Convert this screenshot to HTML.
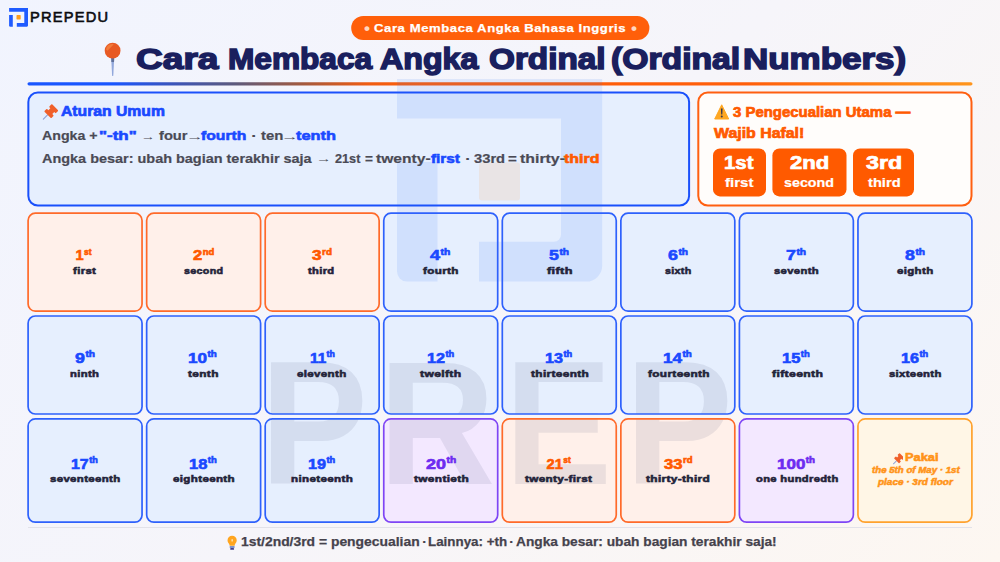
<!DOCTYPE html>
<html lang="id">
<head>
<meta charset="utf-8">
<title>Cara Membaca Angka Ordinal (Ordinal Numbers)</title>
<style>
*{box-sizing:border-box;margin:0;padding:0}
html,body{width:1000px;height:562px;overflow:hidden}
body{font-family:"Liberation Sans",sans-serif;font-weight:700;position:relative;
 background:linear-gradient(135deg,#f1f4fe 0%,#f6f5fa 50%,#fdf7f1 100%)}
.abs{position:absolute}
.t{position:absolute;white-space:pre;line-height:1;transform-origin:0 0;z-index:6}
.t sup{font-size:.57em;line-height:0;vertical-align:baseline;position:relative;top:-.68em;margin-left:.05em}
#logo{left:9px;top:8px;z-index:6}
#pin{left:103px;top:41px;z-index:6}
#grid{left:0;top:0}
#grid .fills rect{stroke:none}
#grid .strokes rect{fill:none;stroke-width:1.7px}
#grid .fills .b{fill:#e6effe}#grid .strokes .b{stroke:#2e61fc}
#grid .fills .o{fill:#fff0ea}#grid .strokes .o{stroke:#ff6a2a}
#grid .fills .p{fill:#f3e8ff}#grid .strokes .p{stroke:#7f45f5}
#grid .fills .y{fill:#fff6e6}#grid .strokes .y{stroke:#ffa22e}
#sep{left:28px;top:527px;width:944px;height:1.2px;background:#e2e2e9}
.ico{position:absolute;z-index:6}
</style>
</head>
<body>
<!-- header -->
<svg class="abs" id="logo" width="20" height="20" viewBox="0 0 20 20">
 <path d="M0.1 0h18.9v17.6a1.1 1.1 0 0 1-1.1 1.1H7.8v-3.6h7.5V3.8H0.1z" fill="#1f5bff"/>
 <path d="M0.1 7.1h3.7v11.6H1.4a1.3 1.3 0 0 1-1.3-1.3z" fill="#1f5bff"/>
 <rect x="7.5" y="7.1" width="4.2" height="4.3" rx=".6" fill="#ff9d1c"/>
</svg>
<svg class="abs" id="pin" width="20" height="38" viewBox="0 0 20 38">
 <path d="M8.2 17h3l-.9 17.4q-.6 1.2-1.2 0z" fill="#92a8dc"/>
 <path d="M8.2 17h3l-.2 4h-2.6z" fill="#5f7099"/>
 <circle cx="9.6" cy="9.7" r="7.9" fill="#e85a24"/>
 <path d="M3 8.5a6.7 6.7 0 0 1 6.2-5.6l1.6.3-6.3 6.6z" fill="#f3813f" opacity=".85"/>
</svg>
<!-- panels -->
<!-- pushpin icons -->
<svg class="ico" style="left:40.4px;top:103.5px" width="17.4" height="17.4" viewBox="-10 -10 20 20">
 <g transform="translate(0.6,0.6) rotate(45)">
  <rect x="-.7" y="2" width="1.4" height="8.200" rx=".7" fill="#8fa3d8"/>
  <path d="M-4.400-9.600h8.800a1 1 0 0 1 1 1v2.600a1 1 0 0 1-1 1h-1.200v3.200h1.500a1 1 0 0 1 1 1v2.400a1 1 0 0 1-1 1h-9.400a1 1 0 0 1-1-1v-2.400a1 1 0 0 1 1-1h1.500v-3.200h-1.200a1 1 0 0 1-1-1v-2.600a1 1 0 0 1 1-1z" fill="#f0602a"/>
 </g>
</svg>
<svg class="ico" style="left:890.8px;top:452.8px" width="12.6" height="12.6" viewBox="-10 -10 20 20">
 <g transform="translate(0.6,0.6) rotate(45)">
  <rect x="-.7" y="2" width="1.4" height="8.200" rx=".7" fill="#8fa3d8"/>
  <path d="M-4.400-9.600h8.800a1 1 0 0 1 1 1v2.600a1 1 0 0 1-1 1h-1.200v3.200h1.500a1 1 0 0 1 1 1v2.400a1 1 0 0 1-1 1h-9.400a1 1 0 0 1-1-1v-2.400a1 1 0 0 1 1-1h1.500v-3.200h-1.200a1 1 0 0 1-1-1v-2.600a1 1 0 0 1 1-1z" fill="#f0602a"/>
 </g>
</svg>
<!-- warning icon -->
<svg class="ico" style="left:713px;top:103px" width="18" height="18" viewBox="0 0 18 18">
 <path d="M8.7 1.8 15.700 16H1.700z" fill="#ffa722" stroke="#ffa722" stroke-width="1" stroke-linejoin="round"/>
 <path d="M7.9 5.4h1.7l-.3 6.2H8.2z" fill="#38384e"/>
 <circle cx="8.75" cy="13.6" r="1" fill="#38384e"/>
</svg>
<!-- bulb icon -->
<svg class="ico" style="left:224.6px;top:533.5px" width="15" height="18.75" viewBox="0 0 16 20">
 <path d="M7.6 1.8a4.9 4.9 0 0 1 4.9 4.9c0 1.9-1.100 2.900-1.700 3.900-.4.700-.5 1.300-.5 2H4.900c0-.7-.1-1.300-.5-2C3.800 9.600 2.700 8.600 2.700 6.700a4.900 4.900 0 0 1 4.900-4.900z" fill="#ffa51f"/>
 <rect x="5" y="12.700" width="5.200" height="2.300" rx=".6" fill="#7d92cc"/>
 <rect x="5.500" y="14.800" width="4.200" height="2.100" rx="1" fill="#3d3f8f"/>
 <rect x="7" y="5.400" width="1.200" height="2.600" rx=".6" fill="#fff3d6"/>
</svg>
<!-- grid + watermark -->
<div class="abs" id="sep"></div>
<svg class="abs" id="grid" width="1000" height="562" viewBox="0 0 1000 562">
 <defs><clipPath id="cellclip">
<rect x="28.10" y="213.20" width="113.95" height="97.90" rx="7.2"/>
<rect x="146.65" y="213.20" width="113.95" height="97.90" rx="7.2"/>
<rect x="265.20" y="213.20" width="113.95" height="97.90" rx="7.2"/>
<rect x="383.75" y="213.20" width="113.95" height="97.90" rx="7.2"/>
<rect x="502.30" y="213.20" width="113.95" height="97.90" rx="7.2"/>
<rect x="620.85" y="213.20" width="113.95" height="97.90" rx="7.2"/>
<rect x="739.40" y="213.20" width="113.95" height="97.90" rx="7.2"/>
<rect x="857.95" y="213.20" width="113.95" height="97.90" rx="7.2"/>
<rect x="28.10" y="316.00" width="113.95" height="98.00" rx="7.2"/>
<rect x="146.65" y="316.00" width="113.95" height="98.00" rx="7.2"/>
<rect x="265.20" y="316.00" width="113.95" height="98.00" rx="7.2"/>
<rect x="383.75" y="316.00" width="113.95" height="98.00" rx="7.2"/>
<rect x="502.30" y="316.00" width="113.95" height="98.00" rx="7.2"/>
<rect x="620.85" y="316.00" width="113.95" height="98.00" rx="7.2"/>
<rect x="739.40" y="316.00" width="113.95" height="98.00" rx="7.2"/>
<rect x="857.95" y="316.00" width="113.95" height="98.00" rx="7.2"/>
<rect x="28.10" y="418.90" width="113.95" height="103.30" rx="7.2"/>
<rect x="146.65" y="418.90" width="113.95" height="103.30" rx="7.2"/>
<rect x="265.20" y="418.90" width="113.95" height="103.30" rx="7.2"/>
<rect x="383.75" y="418.90" width="113.95" height="103.30" rx="7.2"/>
<rect x="502.30" y="418.90" width="113.95" height="103.30" rx="7.2"/>
<rect x="620.85" y="418.90" width="113.95" height="103.30" rx="7.2"/>
<rect x="739.40" y="418.90" width="113.95" height="103.30" rx="7.2"/>
<rect x="857.95" y="418.90" width="113.95" height="103.30" rx="7.2"/>
 </clipPath>
 <linearGradient id="rg" x1="0" y1="0" x2="1" y2="0">
  <stop offset="0" stop-color="#1a56ff"/><stop offset=".09" stop-color="#1a56ff"/><stop offset=".16" stop-color="#3f55b4"/><stop offset=".22" stop-color="#5d5a7c"/><stop offset=".29" stop-color="#a2593f"/><stop offset=".36" stop-color="#f05c12"/><stop offset=".42" stop-color="#ff5e0a"/><stop offset=".76" stop-color="#ff5e0a"/><stop offset="1" stop-color="#ff951c"/>
 </linearGradient></defs>
 <rect x="351.2" y="15.900" width="298.200" height="24" rx="12" fill="#ff5f0a"/>
 <rect x="27.500" y="82.200" width="945" height="3.200" rx="1.600" fill="url(#rg)"/>
 <rect x="28.350" y="92.500" width="660.750" height="113" rx="9.500" fill="#e6effe" stroke="#1a50fb" stroke-width="2"/>
 <rect x="698.300" y="92.500" width="273.200" height="113" rx="9.500" fill="#fffdfb" stroke="#ff5f10" stroke-width="2"/>
 <rect x="713" y="148.4" width="53.0" height="48" rx="7" fill="#ff5a00"/>
 <rect x="772.4" y="148.4" width="74.1" height="48" rx="7" fill="#ff5a00"/>
 <rect x="853" y="148.4" width="61.0" height="48" rx="7" fill="#ff5a00"/>
 <g class="fills">
<rect class="o" x="28.10" y="213.20" width="113.95" height="97.90" rx="7.2"/>
<rect class="o" x="146.65" y="213.20" width="113.95" height="97.90" rx="7.2"/>
<rect class="o" x="265.20" y="213.20" width="113.95" height="97.90" rx="7.2"/>
<rect class="b" x="383.75" y="213.20" width="113.95" height="97.90" rx="7.2"/>
<rect class="b" x="502.30" y="213.20" width="113.95" height="97.90" rx="7.2"/>
<rect class="b" x="620.85" y="213.20" width="113.95" height="97.90" rx="7.2"/>
<rect class="b" x="739.40" y="213.20" width="113.95" height="97.90" rx="7.2"/>
<rect class="b" x="857.95" y="213.20" width="113.95" height="97.90" rx="7.2"/>
<rect class="b" x="28.10" y="316.00" width="113.95" height="98.00" rx="7.2"/>
<rect class="b" x="146.65" y="316.00" width="113.95" height="98.00" rx="7.2"/>
<rect class="b" x="265.20" y="316.00" width="113.95" height="98.00" rx="7.2"/>
<rect class="b" x="383.75" y="316.00" width="113.95" height="98.00" rx="7.2"/>
<rect class="b" x="502.30" y="316.00" width="113.95" height="98.00" rx="7.2"/>
<rect class="b" x="620.85" y="316.00" width="113.95" height="98.00" rx="7.2"/>
<rect class="b" x="739.40" y="316.00" width="113.95" height="98.00" rx="7.2"/>
<rect class="b" x="857.95" y="316.00" width="113.95" height="98.00" rx="7.2"/>
<rect class="b" x="28.10" y="418.90" width="113.95" height="103.30" rx="7.2"/>
<rect class="b" x="146.65" y="418.90" width="113.95" height="103.30" rx="7.2"/>
<rect class="b" x="265.20" y="418.90" width="113.95" height="103.30" rx="7.2"/>
<rect class="p" x="383.75" y="418.90" width="113.95" height="103.30" rx="7.2"/>
<rect class="o" x="502.30" y="418.90" width="113.95" height="103.30" rx="7.2"/>
<rect class="o" x="620.85" y="418.90" width="113.95" height="103.30" rx="7.2"/>
<rect class="p" x="739.40" y="418.90" width="113.95" height="103.30" rx="7.2"/>
<rect class="y" x="857.95" y="418.90" width="113.95" height="103.30" rx="7.2"/>
 </g>
 <g fill="#2f74f5" fill-opacity=".115">
  <path d="M397 79H602.200V265.600a16 16 0 0 1-16 16H479V241.700h75a7 7 0 0 0 7-7V118.400H397z"/>
  <path d="M397 162h40.500v119.600H407a10 10 0 0 1-10-10z"/>
 </g>
 <rect x="479" y="162.500" width="41" height="38" rx="3" fill="#ff9a3c" fill-opacity=".13"/>
 <g clip-path="url(#cellclip)">
  <text x="282.8 411.7 548.4 679.6" y="483.8" transform="scale(.92,1)" font-family="Liberation Sans, sans-serif" font-weight="700" font-size="175.4" fill="#3a4468" fill-opacity=".1">PREP</text>
 </g>
 <g class="strokes">
<rect class="o" x="28.10" y="213.20" width="113.95" height="97.90" rx="7.2"/>
<rect class="o" x="146.65" y="213.20" width="113.95" height="97.90" rx="7.2"/>
<rect class="o" x="265.20" y="213.20" width="113.95" height="97.90" rx="7.2"/>
<rect class="b" x="383.75" y="213.20" width="113.95" height="97.90" rx="7.2"/>
<rect class="b" x="502.30" y="213.20" width="113.95" height="97.90" rx="7.2"/>
<rect class="b" x="620.85" y="213.20" width="113.95" height="97.90" rx="7.2"/>
<rect class="b" x="739.40" y="213.20" width="113.95" height="97.90" rx="7.2"/>
<rect class="b" x="857.95" y="213.20" width="113.95" height="97.90" rx="7.2"/>
<rect class="b" x="28.10" y="316.00" width="113.95" height="98.00" rx="7.2"/>
<rect class="b" x="146.65" y="316.00" width="113.95" height="98.00" rx="7.2"/>
<rect class="b" x="265.20" y="316.00" width="113.95" height="98.00" rx="7.2"/>
<rect class="b" x="383.75" y="316.00" width="113.95" height="98.00" rx="7.2"/>
<rect class="b" x="502.30" y="316.00" width="113.95" height="98.00" rx="7.2"/>
<rect class="b" x="620.85" y="316.00" width="113.95" height="98.00" rx="7.2"/>
<rect class="b" x="739.40" y="316.00" width="113.95" height="98.00" rx="7.2"/>
<rect class="b" x="857.95" y="316.00" width="113.95" height="98.00" rx="7.2"/>
<rect class="b" x="28.10" y="418.90" width="113.95" height="103.30" rx="7.2"/>
<rect class="b" x="146.65" y="418.90" width="113.95" height="103.30" rx="7.2"/>
<rect class="b" x="265.20" y="418.90" width="113.95" height="103.30" rx="7.2"/>
<rect class="p" x="383.75" y="418.90" width="113.95" height="103.30" rx="7.2"/>
<rect class="o" x="502.30" y="418.90" width="113.95" height="103.30" rx="7.2"/>
<rect class="o" x="620.85" y="418.90" width="113.95" height="103.30" rx="7.2"/>
<rect class="p" x="739.40" y="418.90" width="113.95" height="103.30" rx="7.2"/>
<rect class="y" x="857.95" y="418.90" width="113.95" height="103.30" rx="7.2"/>
 </g>
</svg>
<!-- text -->
<span class="t" style="left:30.4px;top:10.2px;font-size:14.4px;color:#0b0b10;font-weight:400;letter-spacing:1.2px;-webkit-text-stroke:.6px #0b0b10;transform:scaleX(1.016)">PREPEDU</span>
<span class="t" style="left:364.3px;top:20.8px;font-size:16px;color:rgba(255,255,255,.75);transform:scaleX(1.067)">•</span>
<span class="t" style="left:374.0px;top:22.5px;font-size:11.4px;color:#fff;letter-spacing:0.5px;-webkit-text-stroke:.25px #fff;transform:scaleX(1.150)">Cara Membaca Angka Bahasa Inggris</span>
<span class="t" style="left:630.5px;top:20.8px;font-size:16px;color:rgba(255,255,255,.75);transform:scaleX(1.067)">•</span>
<span class="t" style="left:136.4px;top:44.5px;font-size:29.2px;color:#1a1f5e;-webkit-text-stroke:1.5px #1a1f5e;transform:scaleX(1.270)">Cara</span>
<span class="t" style="left:227.9px;top:44.5px;font-size:29.2px;color:#1a1f5e;-webkit-text-stroke:1.5px #1a1f5e;transform:scaleX(1.083)">Membaca</span>
<span class="t" style="left:379.8px;top:44.5px;font-size:29.2px;color:#1a1f5e;-webkit-text-stroke:1.5px #1a1f5e;transform:scaleX(1.102)">Angka</span>
<span class="t" style="left:488.9px;top:44.5px;font-size:29.2px;color:#1a1f5e;-webkit-text-stroke:1.5px #1a1f5e;transform:scaleX(1.141)">Ordinal</span>
<span class="t" style="left:611.2px;top:44.5px;font-size:29.2px;color:#1a1f5e;-webkit-text-stroke:1.5px #1a1f5e;transform:scaleX(1.155)">(Ordinal</span>
<span class="t" style="left:742.6px;top:44.5px;font-size:29.2px;color:#1a1f5e;-webkit-text-stroke:1.5px #1a1f5e;transform:scaleX(1.197)">Numbers)</span>
<span class="t" style="left:61.0px;top:104.3px;font-size:14.8px;color:#1a49ff;-webkit-text-stroke:.7px #1a49ff;transform:scaleX(1.062)">Aturan Umum</span>
<span class="t" style="left:41.7px;top:129.0px;font-size:13.7px;color:#4a4a55;-webkit-text-stroke:.2px #4a4a55;transform:scaleX(1.038)">Angka +</span>
<span class="t" style="left:99.2px;top:129.2px;font-size:13.5px;color:#1a49ff;-webkit-text-stroke:.6px #1a49ff;transform:scaleX(1.255)">"-th"</span>
<span class="t" style="left:140.7px;top:131.7px;font-size:9.5px;color:#4a4a55;font-weight:400;transform:scaleX(1.455)">→</span>
<span class="t" style="left:159.0px;top:129.0px;font-size:13.7px;color:#4a4a55;-webkit-text-stroke:.2px #4a4a55;transform:scaleX(1.072)">four</span>
<span class="t" style="left:185.8px;top:131.7px;font-size:9.5px;color:#4a4a55;font-weight:400;transform:scaleX(1.818)">→</span>
<span class="t" style="left:201.2px;top:129.2px;font-size:13.5px;color:#1a49ff;-webkit-text-stroke:.6px #1a49ff;transform:scaleX(1.164)">fourth</span>
<span class="t" style="left:250.6px;top:129.0px;font-size:13.7px;color:#4a4a55;transform:scaleX(1.400)">·</span>
<span class="t" style="left:261.0px;top:129.0px;font-size:13.7px;color:#4a4a55;-webkit-text-stroke:.2px #4a4a55;transform:scaleX(1.090)">ten</span>
<span class="t" style="left:281.0px;top:131.7px;font-size:9.5px;color:#4a4a55;font-weight:400;transform:scaleX(1.818)">→</span>
<span class="t" style="left:296.2px;top:129.2px;font-size:13.5px;color:#1a49ff;-webkit-text-stroke:.6px #1a49ff;transform:scaleX(1.212)">tenth</span>
<span class="t" style="left:41.7px;top:151.5px;font-size:13.2px;color:#4a4a55;-webkit-text-stroke:.2px #4a4a55;transform:scaleX(1.095)">Angka besar: ubah bagian terakhir saja</span>
<span class="t" style="left:316.4px;top:153.8px;font-size:9.5px;color:#4a4a55;font-weight:400;transform:scaleX(1.600)">→</span>
<span class="t" style="left:335.3px;top:151.5px;font-size:13.2px;color:#4a4a55;-webkit-text-stroke:.2px #4a4a55;transform:scaleX(0.962)">21st</span>
<span class="t" style="left:365.3px;top:151.5px;font-size:13.2px;color:#4a4a55;-webkit-text-stroke:.2px #4a4a55;transform:scaleX(1.029)">=</span>
<span class="t" style="left:376.2px;top:151.5px;font-size:13.2px;color:#4a4a55;-webkit-text-stroke:.2px #4a4a55;transform:scaleX(1.183)">twenty-</span>
<span class="t" style="left:431.0px;top:151.6px;font-size:13.1px;color:#1a49ff;-webkit-text-stroke:.6px #1a49ff;transform:scaleX(1.168)">first</span>
<span class="t" style="left:464.6px;top:151.5px;font-size:13.2px;color:#4a4a55;transform:scaleX(1.400)">·</span>
<span class="t" style="left:474.0px;top:151.5px;font-size:13.2px;color:#4a4a55;-webkit-text-stroke:.2px #4a4a55;transform:scaleX(1.117)">33rd</span>
<span class="t" style="left:508.2px;top:151.5px;font-size:13.2px;color:#4a4a55;-webkit-text-stroke:.2px #4a4a55;transform:scaleX(1.143)">=</span>
<span class="t" style="left:519.5px;top:151.5px;font-size:13.2px;color:#4a4a55;-webkit-text-stroke:.2px #4a4a55;transform:scaleX(1.203)">thirty-</span>
<span class="t" style="left:564.4px;top:151.6px;font-size:13.1px;color:#ff5a00;-webkit-text-stroke:.6px #ff5a00;transform:scaleX(1.221)">third</span>
<span class="t" style="left:733.0px;top:104.6px;font-size:14.3px;color:#ff5a00;-webkit-text-stroke:.7px #ff5a00;transform:scaleX(1.044)">3 Pengecualian Utama —</span>
<span class="t" style="left:714.2px;top:125.5px;font-size:14.3px;color:#ff5a00;-webkit-text-stroke:.7px #ff5a00;transform:scaleX(1.111)">Wajib Hafal!</span>
<span class="t" style="left:724.2px;top:153.7px;font-size:18.6px;color:#fff;-webkit-text-stroke:.7px #fff;transform:scaleX(1.096)">1st</span>
<span class="t" style="left:725.2px;top:176.5px;font-size:12.4px;color:#fff;-webkit-text-stroke:.2px #fff;transform:scaleX(1.213)">first</span>
<span class="t" style="left:789.9px;top:153.7px;font-size:18.6px;color:#fff;-webkit-text-stroke:.7px #fff;transform:scaleX(1.188)">2nd</span>
<span class="t" style="left:784.4px;top:176.5px;font-size:12.4px;color:#fff;-webkit-text-stroke:.2px #fff;transform:scaleX(1.153)">second</span>
<span class="t" style="left:866.0px;top:153.7px;font-size:18.6px;color:#fff;-webkit-text-stroke:.7px #fff;transform:scaleX(1.250)">3rd</span>
<span class="t" style="left:867.5px;top:176.5px;font-size:12.4px;color:#fff;-webkit-text-stroke:.2px #fff;transform:scaleX(1.185)">third</span>
<span class="t" style="left:75.5px;top:248.2px;font-size:14.7px;color:#ff5a00;-webkit-text-stroke:.6px #ff5a00;transform:scaleX(1.000)">1<sup>st</sup></span>
<span class="t" style="left:73.0px;top:265.8px;font-size:9.9px;color:#24243a;letter-spacing:0.3px;-webkit-text-stroke:.6px #24243a;transform:scaleX(1.150)">first</span>
<span class="t" style="left:193.0px;top:248.2px;font-size:14.7px;color:#ff5a00;-webkit-text-stroke:.6px #ff5a00;transform:scaleX(1.135)">2<sup>nd</sup></span>
<span class="t" style="left:184.0px;top:265.8px;font-size:9.9px;color:#24243a;letter-spacing:0.3px;-webkit-text-stroke:.6px #24243a;transform:scaleX(1.083)">second</span>
<span class="t" style="left:312.0px;top:248.2px;font-size:14.7px;color:#ff5a00;-webkit-text-stroke:.6px #ff5a00;transform:scaleX(1.176)">3<sup>rd</sup></span>
<span class="t" style="left:308.0px;top:265.8px;font-size:9.9px;color:#24243a;letter-spacing:0.3px;-webkit-text-stroke:.6px #24243a;transform:scaleX(1.130)">third</span>
<span class="t" style="left:430.4px;top:248.2px;font-size:14.7px;color:#1a49ff;-webkit-text-stroke:.6px #1a49ff;transform:scaleX(1.236)">4<sup>th</sup></span>
<span class="t" style="left:423.2px;top:265.8px;font-size:9.9px;color:#24243a;letter-spacing:0.3px;-webkit-text-stroke:.6px #24243a;transform:scaleX(1.180)">fourth</span>
<span class="t" style="left:549.0px;top:248.2px;font-size:14.7px;color:#1a49ff;-webkit-text-stroke:.6px #1a49ff;transform:scaleX(1.212)">5<sup>th</sup></span>
<span class="t" style="left:546.5px;top:265.8px;font-size:9.9px;color:#24243a;letter-spacing:0.3px;-webkit-text-stroke:.6px #24243a;transform:scaleX(1.282)">fifth</span>
<span class="t" style="left:668.0px;top:248.2px;font-size:14.7px;color:#1a49ff;-webkit-text-stroke:.6px #1a49ff;transform:scaleX(1.212)">6<sup>th</sup></span>
<span class="t" style="left:665.0px;top:265.8px;font-size:9.9px;color:#24243a;letter-spacing:0.3px;-webkit-text-stroke:.6px #24243a;transform:scaleX(1.083)">sixth</span>
<span class="t" style="left:785.9px;top:248.2px;font-size:14.7px;color:#1a49ff;-webkit-text-stroke:.6px #1a49ff;transform:scaleX(1.219)">7<sup>th</sup></span>
<span class="t" style="left:774.0px;top:265.8px;font-size:9.9px;color:#24243a;letter-spacing:0.3px;-webkit-text-stroke:.6px #24243a;transform:scaleX(1.141)">seventh</span>
<span class="t" style="left:905.0px;top:248.2px;font-size:14.7px;color:#1a49ff;-webkit-text-stroke:.6px #1a49ff;transform:scaleX(1.212)">8<sup>th</sup></span>
<span class="t" style="left:897.0px;top:265.8px;font-size:9.9px;color:#24243a;letter-spacing:0.3px;-webkit-text-stroke:.6px #24243a;transform:scaleX(1.161)">eighth</span>
<span class="t" style="left:75.0px;top:351.1px;font-size:14.7px;color:#1a49ff;-webkit-text-stroke:.6px #1a49ff;transform:scaleX(1.212)">9<sup>th</sup></span>
<span class="t" style="left:70.4px;top:368.6px;font-size:9.9px;color:#24243a;letter-spacing:0.3px;-webkit-text-stroke:.6px #24243a;transform:scaleX(1.143)">ninth</span>
<span class="t" style="left:188.4px;top:351.1px;font-size:14.7px;color:#1a49ff;-webkit-text-stroke:.6px #1a49ff;transform:scaleX(1.167)">10<sup>th</sup></span>
<span class="t" style="left:188.0px;top:368.6px;font-size:9.9px;color:#24243a;letter-spacing:0.3px;-webkit-text-stroke:.6px #24243a;transform:scaleX(1.200)">tenth</span>
<span class="t" style="left:309.5px;top:351.1px;font-size:14.7px;color:#1a49ff;-webkit-text-stroke:.6px #1a49ff;transform:scaleX(1.043)">11<sup>th</sup></span>
<span class="t" style="left:297.0px;top:368.6px;font-size:9.9px;color:#24243a;letter-spacing:0.3px;-webkit-text-stroke:.6px #24243a;transform:scaleX(1.167)">eleventh</span>
<span class="t" style="left:426.9px;top:351.1px;font-size:14.7px;color:#1a49ff;-webkit-text-stroke:.6px #1a49ff;transform:scaleX(1.104)">12<sup>th</sup></span>
<span class="t" style="left:420.0px;top:368.6px;font-size:9.9px;color:#24243a;letter-spacing:0.3px;-webkit-text-stroke:.6px #24243a;transform:scaleX(1.224)">twelfth</span>
<span class="t" style="left:545.4px;top:351.1px;font-size:14.7px;color:#1a49ff;-webkit-text-stroke:.6px #1a49ff;transform:scaleX(1.104)">13<sup>th</sup></span>
<span class="t" style="left:531.0px;top:368.6px;font-size:9.9px;color:#24243a;letter-spacing:0.3px;-webkit-text-stroke:.6px #24243a;transform:scaleX(1.198)">thirteenth</span>
<span class="t" style="left:663.4px;top:351.1px;font-size:14.7px;color:#1a49ff;-webkit-text-stroke:.6px #1a49ff;transform:scaleX(1.167)">14<sup>th</sup></span>
<span class="t" style="left:647.5px;top:368.6px;font-size:9.9px;color:#24243a;letter-spacing:0.3px;-webkit-text-stroke:.6px #24243a;transform:scaleX(1.194)">fourteenth</span>
<span class="t" style="left:782.4px;top:351.1px;font-size:14.7px;color:#1a49ff;-webkit-text-stroke:.6px #1a49ff;transform:scaleX(1.125)">15<sup>th</sup></span>
<span class="t" style="left:771.5px;top:368.6px;font-size:9.9px;color:#24243a;letter-spacing:0.3px;-webkit-text-stroke:.6px #24243a;transform:scaleX(1.232)">fifteenth</span>
<span class="t" style="left:900.9px;top:351.1px;font-size:14.7px;color:#1a49ff;-webkit-text-stroke:.6px #1a49ff;transform:scaleX(1.104)">16<sup>th</sup></span>
<span class="t" style="left:889.0px;top:368.6px;font-size:9.9px;color:#24243a;letter-spacing:0.3px;-webkit-text-stroke:.6px #24243a;transform:scaleX(1.143)">sixteenth</span>
<span class="t" style="left:71.0px;top:456.6px;font-size:14.7px;color:#1a49ff;-webkit-text-stroke:.6px #1a49ff;transform:scaleX(1.083)">17<sup>th</sup></span>
<span class="t" style="left:50.0px;top:474.2px;font-size:9.9px;color:#24243a;letter-spacing:0.3px;-webkit-text-stroke:.6px #24243a;transform:scaleX(1.157)">seventeenth</span>
<span class="t" style="left:189.4px;top:456.6px;font-size:14.7px;color:#1a49ff;-webkit-text-stroke:.6px #1a49ff;transform:scaleX(1.125)">18<sup>th</sup></span>
<span class="t" style="left:172.5px;top:474.2px;font-size:9.9px;color:#24243a;letter-spacing:0.3px;-webkit-text-stroke:.6px #24243a;transform:scaleX(1.171)">eighteenth</span>
<span class="t" style="left:307.9px;top:456.6px;font-size:14.7px;color:#1a49ff;-webkit-text-stroke:.6px #1a49ff;transform:scaleX(1.104)">19<sup>th</sup></span>
<span class="t" style="left:290.9px;top:474.2px;font-size:9.9px;color:#24243a;letter-spacing:0.3px;-webkit-text-stroke:.6px #24243a;transform:scaleX(1.173)">nineteenth</span>
<span class="t" style="left:426.0px;top:456.6px;font-size:14.7px;color:#6d2cf0;-webkit-text-stroke:.6px #6d2cf0;transform:scaleX(1.224)">20<sup>th</sup></span>
<span class="t" style="left:414.0px;top:474.2px;font-size:9.9px;color:#24243a;letter-spacing:0.3px;-webkit-text-stroke:.6px #24243a;transform:scaleX(1.198)">twentieth</span>
<span class="t" style="left:546.5px;top:456.6px;font-size:14.7px;color:#ff5a00;-webkit-text-stroke:.6px #ff5a00;transform:scaleX(1.000)">21<sup>st</sup></span>
<span class="t" style="left:525.0px;top:474.2px;font-size:9.9px;color:#24243a;letter-spacing:0.3px;-webkit-text-stroke:.6px #24243a;transform:scaleX(1.184)">twenty-first</span>
<span class="t" style="left:663.5px;top:456.6px;font-size:14.7px;color:#ff5a00;-webkit-text-stroke:.6px #ff5a00;transform:scaleX(1.140)">33<sup>rd</sup></span>
<span class="t" style="left:645.5px;top:474.2px;font-size:9.9px;color:#24243a;letter-spacing:0.3px;-webkit-text-stroke:.6px #24243a;transform:scaleX(1.198)">thirty-third</span>
<span class="t" style="left:777.4px;top:456.6px;font-size:14.7px;color:#6d2cf0;-webkit-text-stroke:.6px #6d2cf0;transform:scaleX(1.156)">100<sup>th</sup></span>
<span class="t" style="left:755.5px;top:474.2px;font-size:9.9px;color:#24243a;letter-spacing:0.3px;-webkit-text-stroke:.6px #24243a;transform:scaleX(1.131)">one hundredth</span>
<span class="t" style="left:905.4px;top:452.9px;font-size:10.2px;color:#ff9419;-webkit-text-stroke:.55px #ff9419;transform:scaleX(1.259)">Pakai</span>
<span class="t" style="left:871.5px;top:466.0px;font-size:8.6px;color:#ff9419;font-style:italic;-webkit-text-stroke:.5px #ff9419;transform:scaleX(1.127)">the 5th of May · 1st</span>
<span class="t" style="left:878.0px;top:477.9px;font-size:8.6px;color:#ff9419;font-style:italic;-webkit-text-stroke:.5px #ff9419;transform:scaleX(1.160)">place · 3rd floor</span>
<span class="t" style="left:241.3px;top:535.2px;font-size:13.2px;color:#45424c;-webkit-text-stroke:.25px #45424c;transform:scaleX(1.053)">1st/2nd/3rd = pengecualian</span>
<span class="t" style="left:421.7px;top:535.2px;font-size:13.2px;color:#45424c;transform:scaleX(1.200)">·</span>
<span class="t" style="left:428.0px;top:535.2px;font-size:13.2px;color:#45424c;-webkit-text-stroke:.25px #45424c;transform:scaleX(1.014)">Lainnya: +th</span>
<span class="t" style="left:508.7px;top:535.2px;font-size:13.2px;color:#45424c;transform:scaleX(1.200)">·</span>
<span class="t" style="left:515.9px;top:535.2px;font-size:13.2px;color:#45424c;-webkit-text-stroke:.25px #45424c;transform:scaleX(1.040)">Angka besar: ubah bagian terakhir saja!</span>
</body>
</html>
